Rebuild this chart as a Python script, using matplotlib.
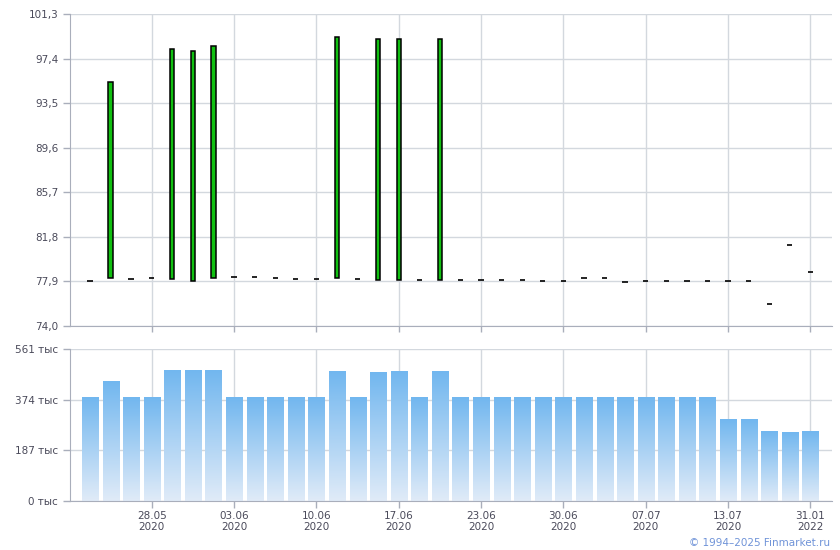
import matplotlib
matplotlib.use('Agg')
import matplotlib.pyplot as plt
import numpy as np
from matplotlib.colors import LinearSegmentedColormap

# price per session: open / close (open == close -> flat dash)
opens = [77.91, 78.23, 78.08, 78.17, 78.14, 77.97, 78.23, 78.26, 78.26, 78.17,
         78.08, 78.08, 78.17, 78.08, 78.00, 78.00, 78.00, 78.00, 78.00, 78.00,
         78.00, 78.00, 77.91, 77.91, 78.17, 78.17, 77.82, 77.91, 77.91, 77.91,
         77.91, 77.91, 77.91, 75.90, 81.09, 78.70]
closes = [77.91, 95.32, 78.08, 78.17, 98.23, 98.06, 98.50, 78.26, 78.26, 78.17,
          78.08, 78.08, 99.26, 78.08, 99.08, 99.08, 78.00, 99.08, 78.00, 78.00,
          78.00, 78.00, 77.91, 77.91, 78.17, 78.17, 77.82, 77.91, 77.91, 77.91,
          77.91, 77.91, 77.91, 75.90, 81.09, 78.70]
volumes = [381, 440, 381, 381, 481, 481, 481, 381, 381, 381,
           381, 381, 477, 381, 474, 477, 381, 477, 381, 381,
           381, 381, 381, 381, 381, 381, 381, 381, 381, 381,
           381, 300, 300, 256, 252, 256]  # тыс
tick_idx = [3, 7, 11, 15, 19, 23, 27, 31, 35]
tick_labels = ['28.05\n2020', '03.06\n2020', '10.06\n2020', '17.06\n2020',
               '23.06\n2020', '30.06\n2020', '07.07\n2020', '13.07\n2020',
               '31.01\n2022']
price_ticks = [74.0, 77.9, 81.8, 85.7, 89.6, 93.5, 97.4, 101.3]
vol_ticks = [0, 187, 374, 561]

plt.rcParams['font.family'] = 'DejaVu Sans'
plt.rcParams['font.size'] = 7.5
txt = '#4a4a5a'
grid = '#d3d8de'
spine = '#a9aebb'

fig = plt.figure(figsize=(8.4, 5.5), dpi=100)
ax1 = fig.add_axes([70/840, 1-326/550, 762/840, 312/550])
ax2 = fig.add_axes([70/840, 1-501/550, 762/840, 152/550])

x = np.arange(len(opens))
for ax in (ax1, ax2):
    ax.set_xlim(-0.97, 36.05)
    ax.set_xticks(tick_idx)
    ax.grid(True, color=grid, linewidth=1)
    ax.set_axisbelow(True)
    for s in ('top', 'right'):
        ax.spines[s].set_visible(False)
    for s in ('left', 'bottom'):
        ax.spines[s].set_color(spine)
    ax.tick_params(colors=spine, labelcolor=txt, length=5, width=1)

# candles
for i in x:
    o, c = opens[i], closes[i]
    if abs(c - o) < 0.05:
        ax1.plot([i - 0.13, i + 0.13], [o, o], color='black', lw=1.2, solid_capstyle='butt')
    else:
        ax1.bar(i, c - o, 0.2, bottom=min(o, c), color='#11c011' if c > o else '#e02020',
                edgecolor='black', linewidth=1.1, zorder=3)
ax1.set_ylim(74.0, 101.3)
ax1.set_yticks(price_ticks)
ax1.set_yticklabels([f'{v:.1f}'.replace('.', ',') for v in price_ticks])
ax1.set_xticklabels([])
ax1.tick_params(axis='x', length=4)

# volume bars with vertical gradient
cmap = LinearSegmentedColormap.from_list('vol', ['#e0ebf8', '#72b7ef'])
grad = np.linspace(0, 1, 100).reshape(-1, 1)
w = 0.78
for i in x:
    ax2.imshow(grad, extent=[i - w/2, i + w/2, 0, volumes[i]], origin='lower',
               aspect='auto', cmap=cmap, zorder=2)
ax2.set_ylim(0, 561)
ax2.set_xlim(-0.97, 36.05)
ax2.set_yticks(vol_ticks)
ax2.set_yticklabels([f'{v} тыс' for v in vol_ticks])
ax2.set_xticklabels(tick_labels, linespacing=1.1)
ax2.tick_params(axis='x', pad=2)

fig.text(830/840, 1-543/550, '© 1994–2025 Finmarket.ru', color='#6f93d8',
         ha='right', va='center', fontsize=7.5)

fig.savefig('out.png', dpi=100)
